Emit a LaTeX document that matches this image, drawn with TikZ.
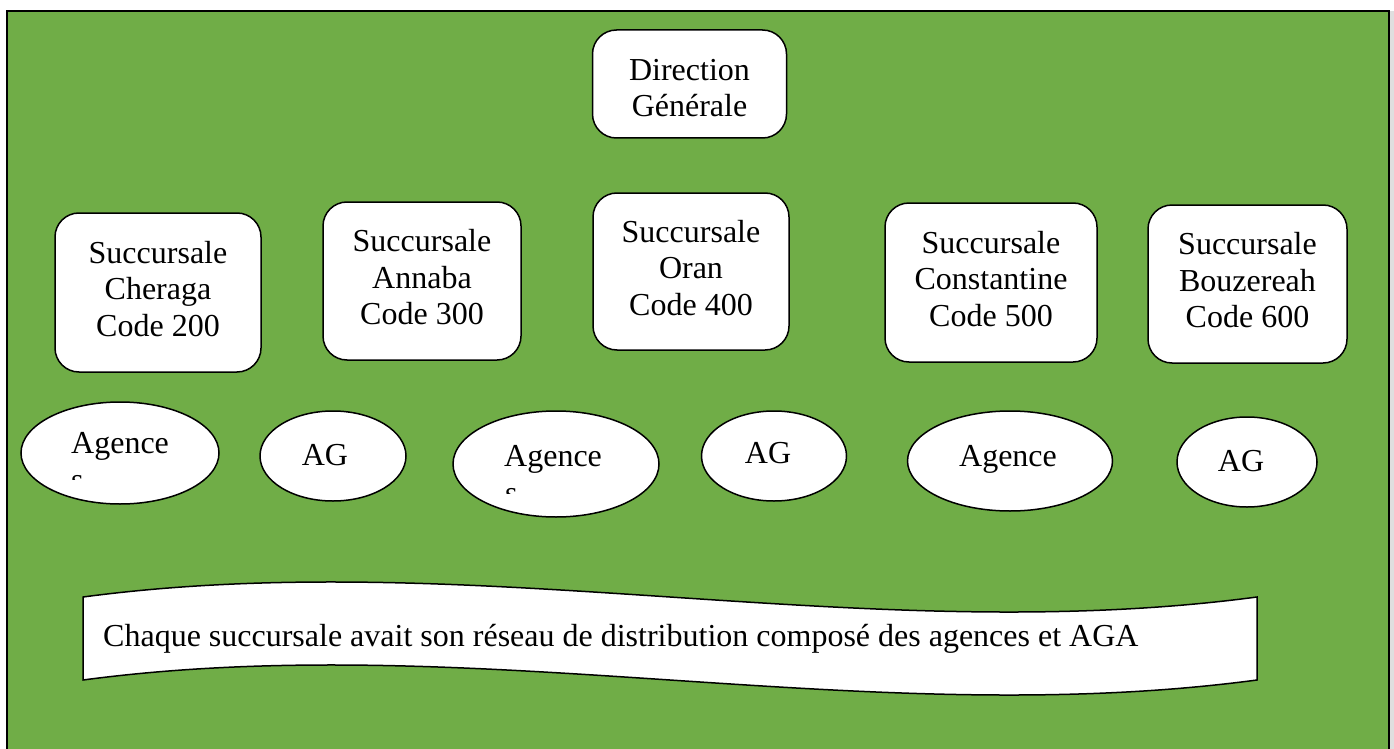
\documentclass[tikz,border=0pt]{standalone}
\usepackage{fontspec}
\setmainfont{Liberation Serif}
\usetikzlibrary{shapes.geometric}
\definecolor{bggreen}{HTML}{70AD47}
\newcommand{\lowstrut}{\rule[-8pt]{0pt}{8pt}}
\newcommand{\highstrut}{\rule{0pt}{29pt}}
\begin{document}
\begin{tikzpicture}[x=1pt,y=-1pt,
  txt/.style={font=\fontsize{32}{36.5}\selectfont, inner sep=0pt},
  sbox/.style={draw, line width=1.5pt, fill=white, rounded corners=24pt, align=center, txt},
  agency/.style={draw, ellipse, line width=1.5pt, fill=white, inner sep=0pt}]
\useasboundingbox (0,0) rectangle (1394,749);
\fill[white] (0,0) rectangle (1394,749);
\fill[gray!25] (1390,11) rectangle (1394,749);
\draw[line width=2.5pt, fill=bggreen] (7,11) rectangle (1389,775);

% top box
\node[sbox, minimum width=194pt, minimum height=108pt] (dg) at (689.5,84) {\highstrut Direction\\Générale};

% branches
\node[sbox, minimum width=206pt, minimum height=159pt] (cheraga) at (158,292.5) {Succursale\\Cheraga\\Code 200\lowstrut};
\node[sbox, minimum width=198pt, minimum height=158pt] (annaba) at (422,281) {Succursale\\Annaba\\Code 300\lowstrut};
\node[sbox, minimum width=196pt, minimum height=157pt] (oran) at (691,271.5) {Succursale\\Oran\\Code 400\lowstrut};
\node[sbox, minimum width=212pt, minimum height=159pt] (constantine) at (991,282.5) {Succursale\\Constantine\\Code 500\lowstrut};
\node[sbox, minimum width=199pt, minimum height=158pt] (bouzereah) at (1247.5,284) {Succursale\\Bouzereah\\Code 600\lowstrut};

% agencies
\node[agency, minimum width=198pt, minimum height=102pt] (e1) at (120,453) {};
\node[agency, minimum width=146pt, minimum height=90pt] (ag1) at (333,456) {};
\node[agency, minimum width=206pt, minimum height=106pt] (e3) at (556,464) {};
\node[agency, minimum width=145pt, minimum height=90pt] (ag2) at (774,456) {};
\node[agency, minimum width=205pt, minimum height=100pt] (e5) at (1010,461) {};
\node[agency, minimum width=140pt, minimum height=90pt] (ag3) at (1247,462) {};

\node[txt, anchor=base west] (e1t) at (71,453) {Agence};
\begin{scope}
  \clip (0,0) rectangle (1394,479);
  \node[txt, anchor=base west] (e1s) at (71,490) {s};
\end{scope}
\node[txt] (ag1t) at (325,455) {AG};
\node[txt, anchor=base west] (e3t) at (504,466) {Agence};
\begin{scope}
  \clip (0,0) rectangle (1394,493);
  \node[txt, anchor=base west] (e3s) at (505,503) {s};
\end{scope}
\node[txt] (ag2t) at (768,453) {AG};
\node[txt] (e5t) at (1008,459) {Agence};
\node[txt] (ag3t) at (1241,461) {AG};

% wave banner
\draw[line width=1.5pt, fill=white] (83,597) .. controls (474,545) and (866,649) .. (1257,597)
  -- (1257,680) .. controls (866,732) and (474,628) .. (83,680) -- cycle;
\node[txt, anchor=base west] (note) at (103,646) {Chaque succursale avait son réseau de distribution composé des agences et AGA};
\end{tikzpicture}
\end{document}
